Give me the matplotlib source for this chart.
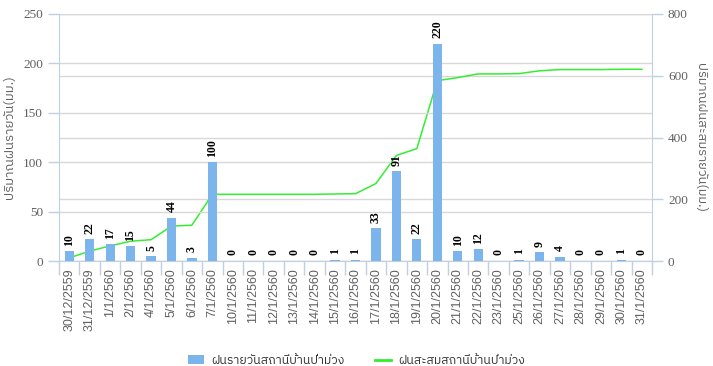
import matplotlib
matplotlib.use("Agg")
import matplotlib.pyplot as plt
from matplotlib import font_manager
from matplotlib.ft2font import FT2Font
from matplotlib.lines import Line2D
from matplotlib.patches import Patch
import numpy as np

dates = ["30/12/2559", "31/12/2559", "1/1/2560", "2/1/2560", "4/1/2560", "5/1/2560",
         "6/1/2560", "7/1/2560", "10/1/2560", "11/1/2560", "12/1/2560", "13/1/2560",
         "14/1/2560", "15/1/2560", "16/1/2560", "17/1/2560", "18/1/2560", "19/1/2560",
         "20/1/2560", "21/1/2560", "22/1/2560", "23/1/2560", "25/1/2560", "26/1/2560",
         "27/1/2560", "28/1/2560", "29/1/2560", "30/1/2560", "31/1/2560"]
daily_rain = [10, 22, 17, 15, 5, 44, 3, 100, 0, 0, 0, 0, 0, 1, 1, 33, 91, 22,
              220, 10, 12, 0, 1, 9, 4, 0, 0, 1, 0]
cumulative_rain = [10, 32, 49, 64, 69, 113, 116, 216, 216, 216, 216, 216, 216, 217, 218,
                   251, 342, 364, 584, 594, 606, 606, 607, 616, 620, 620, 620, 621, 621]

daily_name = "ฝนรายวันสถานีบ้านป่าม่วง"
cum_name = "ฝนสะสมสถานีบ้านป่าม่วง"
left_label = "ปริมาณฝนรายวัน(มม.)"
right_label = "ปริมาณฝนสะสมรายวัน(มม.)"

# pick an installed font that has Thai glyphs
thai_font = None
for f in font_manager.fontManager.ttflist:
    try:
        ft = FT2Font(f.fname)
        if ft.get_char_index(ord("ก")) and ft.get_char_index(ord("0")):
            thai_font = f.name
            if "Sans" in f.name:
                break
    except Exception:
        pass
thai_family = [thai_font, "DejaVu Sans"] if thai_font else ["DejaVu Sans"]

bar_color = "#7cb5ec"
line_color = "#33ee33"
grid_color = "#d8d8d8"
axis_color = "#c0d0e0"
text_color = "#606060"

fig = plt.figure(figsize=(7.13, 3.66), dpi=100)
ax = fig.add_axes([59 / 713, 1 - 261 / 366, (652 - 59) / 713, (261 - 14) / 366])
ax2 = ax.twinx()

x = np.arange(len(dates))
ax.bar(x, daily_rain, width=0.45, color=bar_color, zorder=3)
for xi, v in zip(x, daily_rain):
    ax.annotate(str(v), (xi, v), xytext=(0, 4), textcoords="offset points",
                rotation=90, ha="center", va="bottom", fontsize=8.5,
                fontweight="bold", family="Liberation Serif", color="black", zorder=5)

ax2.plot(x, cumulative_rain, color=line_color, lw=1.1, zorder=4)

ax.set_xlim(-0.5, len(dates) - 0.5)
ax.set_ylim(0, 250)
ax.set_yticks(np.arange(0, 251, 50))
ax2.set_ylim(0, 800)
ax2.set_yticks(np.arange(0, 801, 200))

ax.set_xticks(x)
ax.set_xticklabels(dates, rotation=90, fontsize=9, family="Liberation Sans", color=text_color)
ax.set_xticks(np.arange(-0.5, len(dates), 1), minor=True)
ax.tick_params(axis="x", which="major", length=0, pad=5)
ax.tick_params(axis="x", which="minor", length=10, color=axis_color, width=1)

for a in (ax, ax2):
    a.tick_params(axis="y", labelsize=9.5, labelcolor=text_color, color=axis_color,
                  length=8, width=1)
    for lab in a.get_yticklabels():
        lab.set_family("Liberation Serif")
    a.set_axisbelow(True)
    for s in a.spines.values():
        s.set_visible(False)

ax.spines["bottom"].set_visible(True)
ax.spines["bottom"].set_color(axis_color)
ax.spines["left"].set_visible(True)
ax.spines["left"].set_color(axis_color)
ax2.spines["right"].set_visible(True)
ax2.spines["right"].set_color(axis_color)

ax.yaxis.grid(True, color=grid_color, lw=1, zorder=0)
ax2.yaxis.grid(True, color=grid_color, lw=1, zorder=0)
ax.set_zorder(ax2.get_zorder() + 1)
ax.patch.set_visible(False)

ax.set_ylabel(left_label, family=thai_family, fontsize=9.5, color=text_color, labelpad=5)
ax2.set_ylabel(right_label, family=thai_family, fontsize=9.3, color=text_color,
               rotation=-90, labelpad=14)

handles = [Patch(facecolor=bar_color, edgecolor="none"),
           Line2D([0], [0], color=line_color, lw=2)]
leg = fig.legend(handles, [daily_name, cum_name], loc="lower center", ncol=2,
                 bbox_to_anchor=(0.5, -0.03), frameon=False, handlelength=1.3,
                 handletextpad=0.6, columnspacing=2.5,
                 prop={"family": thai_family, "size": 8.8})
for t in leg.get_texts():
    t.set_color("#333333")

fig.savefig("out.png", dpi=100)
